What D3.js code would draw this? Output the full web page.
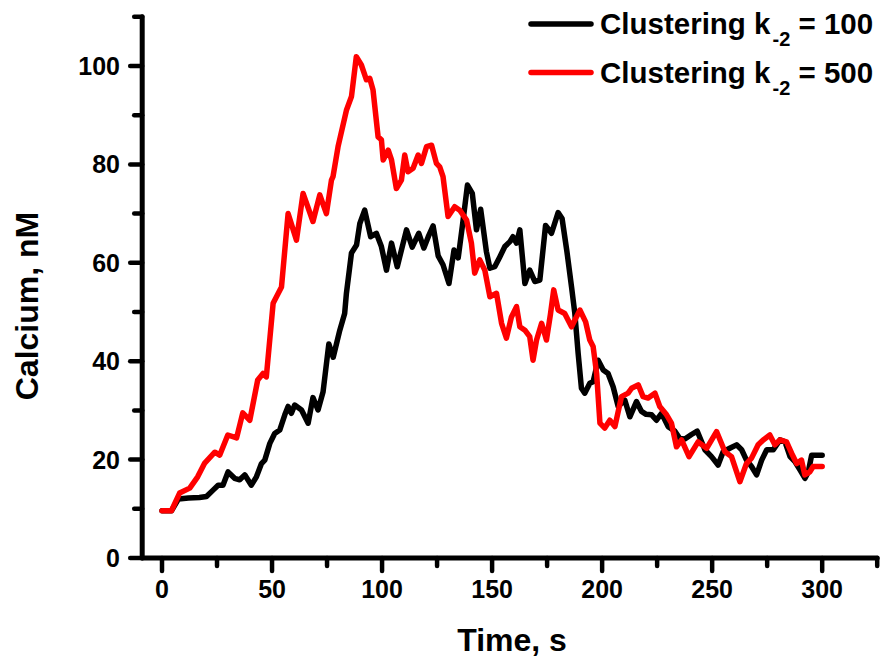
<!DOCTYPE html>
<html>
<head>
<meta charset="utf-8">
<script src="https://cdn.jsdelivr.net/npm/d3@7/dist/d3.min.js"></script>
<style>
  html, body { margin: 0; padding: 0; background: #fff; }
  svg { display: block; }
  text { font-family: "Liberation Sans", Arial, sans-serif; font-weight: bold; fill: #000; }
</style>
</head>
<body>
<svg id="chart" width="881" height="659"></svg>
<script>
// ---- Data ----
const seriesNames = ["100", "500"];
const tK100 = [0,4.3,7.5,12,17,20.2,23.2,25.5,27.7,30,33,35.3,37.6,40.6,42.9,45.2,46.7,49,51.2,53.5,55.8,57.3,58.8,60.3,63.4,66.4,68.6,70.9,73.2,75.8,77.8,80.8,83,83.8,86.1,88.4,89.9,92.1,94.8,97.4,99.7,102,104.3,106.9,111.1,113.7,116.7,119,121,123.2,125.5,127.7,130.4,132.7,134.6,136.5,138.8,141,142.9,144.8,147.4,149,151.2,153.5,155.8,158.1,159.5,161.1,162.6,164.9,167.1,169.4,171.7,174.3,177,180,181.8,184,186.1,187.6,189.1,190.6,192.1,194.4,195.9,198.2,200.5,202.7,205,207.3,210.3,212.6,215.6,217.9,220,222.5,224.7,227,230,233,235.3,237.6,240.6,243.2,246.7,249.7,252.7,255,258,261.1,263.4,265.6,267.9,270.2,272.5,274.8,277.8,280.8,283.1,285.4,287.6,289.9,292.2,293.7,295.2,300];
const vK100 = [9.6,9.6,12,12.2,12.3,12.5,13.8,14.8,14.8,17.5,16.2,15.9,16.9,14.8,16.5,19.2,19.9,23.3,25.3,26,29.1,30.8,29.4,31.1,30.1,27.4,32.6,30.1,33.8,43.5,40.8,46.3,49.7,53.8,62,63.6,68,70.7,65.3,66,63.3,58.5,64,59.2,66.7,63.2,66,63,65.3,67.5,61.4,59.6,55.8,62.6,61,67.5,75.8,74.1,66.7,70.9,62.3,58.9,59.2,61.2,63.3,64.3,65.3,64,66.7,55.8,58.5,56.2,56.5,67.6,66,70.2,69,62.3,55.1,49.7,41.6,34.5,33.5,35.5,35.8,40.2,38.2,37.5,34.8,30.8,32.1,28.7,31.8,29.8,29.2,29.1,28,29.4,26.7,25.8,24.3,24.2,25.1,25.8,22,20.6,18.9,21.6,22.3,23,22,19.9,18.6,16.9,19.9,22,22,24,23.6,20.6,19.6,17.9,16.2,17.5,20.9,20.9];
const tK500 = [0,4.3,8,12.6,16.2,19.4,24,26.2,29.9,33.9,36.7,39.9,43.5,45.9,47.4,50.5,54.3,57.3,61.1,64.1,68.6,71.7,74.7,77,77.7,80,83.8,86.1,88.3,90.6,92.9,94.4,95.9,98.2,99.7,100.5,102.8,104.3,106.5,108.8,110.3,111.8,114.1,116.4,117.9,120.2,122.5,124.7,126.2,127.7,130,133,135.3,138.4,140.6,142.1,144.4,146.7,149,152,154.3,156.5,158.8,161.1,162.6,164.9,167.1,168.6,170.2,172.5,174.7,176.5,178,180,183,186.1,189.9,192.5,194.4,195.9,197.5,199,201.2,203.5,205.8,208.8,211.8,213.4,216.4,218.6,220.9,224,226.2,229.3,231.5,233.8,236.1,239.5,243.6,247.5,252,255.8,258.8,262.6,265.6,267.9,270.9,273.2,276.2,278.5,280.8,283.8,286.1,288.4,290.6,292.1,294.4,295.9,300];
const vK500 = [9.6,9.6,13.2,14.2,16.5,19.3,21.5,20.9,25,24.4,29.5,28,36.2,37.5,36.8,51.8,55.1,70,64.6,74.1,68.4,73.8,70,76.8,77.5,83.6,91,93.8,101.9,100.2,97.2,97.5,95.1,85.6,85,80.9,82.9,80.9,75.1,76.8,81.9,78.5,79.2,81.9,80.2,83.6,83.9,80.2,79.5,77.5,69.4,71.4,70.7,68.7,64,57.9,60.6,58.5,53.1,53.8,47.7,44.7,49,51.1,47,46.3,45,40.2,44.3,47.7,44.3,49.5,54.5,50.4,49.7,47,50.4,48,44.3,43,37.5,27.4,26.4,28,26.7,32.8,33.5,34.5,35.2,32.8,32.5,33.5,30.8,29.1,27.4,22.6,24,20.6,23.6,22.3,25.7,21.6,20.6,15.5,19.2,20.3,23,24,25,23,24,23.6,21.3,19.2,19.9,16.9,17.5,18.6,18.6];
const xTicks = [0, 50, 100, 150, 200, 250, 300];
const xMinorTicks = [25, 75, 125, 175, 225, 275, 325];
const yTicks = [0, 20, 40, 60, 80, 100];
const yMinorTicks = [10, 30, 50, 70, 90, 110];
const xTitle = "Time, s";
const yTitle = "Calcium, nM";
const legendPrefix = "Clustering k";
const legendSub = "-2";

// ---- Layout ----
const svg = d3.select("#chart");
svg.append("rect").attr("width", 881).attr("height", 659).attr("fill", "#fff");

const x = d3.scaleLinear().domain([-9, 325]).range([142.2, 877.2]);
const y = d3.scaleLinear().domain([0, 110]).range([558, 16.8]);

const axisW = 5;

// Y axis
const gy = svg.append("g");
gy.append("line").attr("x1", x(-9)).attr("x2", x(-9)).attr("y1", y(0)).attr("y2", y(110))
  .attr("stroke", "#000").attr("stroke-width", axisW).attr("stroke-linecap", "round");
gy.selectAll(".ymaj").data(yTicks).join("line")
  .attr("x1", x(-9)).attr("x2", x(-9) - 12).attr("y1", d => y(d)).attr("y2", d => y(d))
  .attr("stroke", "#000").attr("stroke-width", 4.5).attr("stroke-linecap", "round");
gy.selectAll(".ymin").data(yMinorTicks).join("line")
  .attr("x1", x(-9)).attr("x2", x(-9) - 8).attr("y1", d => y(d)).attr("y2", d => y(d))
  .attr("stroke", "#000").attr("stroke-width", 4.5).attr("stroke-linecap", "round");
gy.selectAll(".ylab").data(yTicks).join("text")
  .attr("x", 120).attr("y", d => y(d) + 9)
  .attr("text-anchor", "end").attr("font-size", 25)
  .text(d => d);

// X axis
const gx = svg.append("g");
gx.append("line").attr("x1", x(-9)).attr("x2", x(325)).attr("y1", y(0)).attr("y2", y(0))
  .attr("stroke", "#000").attr("stroke-width", axisW).attr("stroke-linecap", "round");
gx.selectAll(".xmaj").data(xTicks).join("line")
  .attr("x1", d => x(d)).attr("x2", d => x(d)).attr("y1", y(0)).attr("y2", y(0) + 13)
  .attr("stroke", "#000").attr("stroke-width", 4.5).attr("stroke-linecap", "round");
gx.selectAll(".xmin").data(xMinorTicks).join("line")
  .attr("x1", d => x(d)).attr("x2", d => x(d)).attr("y1", y(0)).attr("y2", y(0) + 8)
  .attr("stroke", "#000").attr("stroke-width", 4.5).attr("stroke-linecap", "round");
gx.selectAll(".xlab").data(xTicks).join("text")
  .attr("x", d => x(d)).attr("y", 598)
  .attr("text-anchor", "middle").attr("font-size", 25)
  .text(d => d);

// Titles
svg.append("text").attr("x", 512).attr("y", 651).attr("text-anchor", "middle")
  .attr("font-size", 32).text(xTitle);
svg.append("text").attr("transform", "translate(38,306) rotate(-90)")
  .attr("text-anchor", "middle").attr("font-size", 32).text(yTitle);

// Lines
const line = d3.line().x(d => x(d[0])).y(d => y(d[1]));
const dK100 = tK100.map((t, i) => [t, vK100[i]]);
const dK500 = tK500.map((t, i) => [t, vK500[i]]);
const colors = ["#000000", "#ff0000"];
[dK100, dK500].forEach((d, i) => {
  svg.append("path").datum(d).attr("d", line)
    .attr("fill", "none").attr("stroke", colors[i]).attr("stroke-width", 5.5)
    .attr("stroke-linejoin", "round").attr("stroke-linecap", "round");
});

// Legend
const legY = [24, 72.5];
seriesNames.forEach((name, i) => {
  svg.append("line").attr("x1", 531).attr("x2", 591).attr("y1", legY[i]).attr("y2", legY[i])
    .attr("stroke", colors[i]).attr("stroke-width", 5.5).attr("stroke-linecap", "round");
  const t = svg.append("text").attr("x", 600).attr("y", legY[i] + 10).attr("font-size", 29.5);
  t.append("tspan").text(legendPrefix);
  t.append("tspan").attr("font-size", 20).attr("dy", 12).attr("dx", 2).text(legendSub);
  t.append("tspan").attr("dy", -12).text(" = " + name);
});
</script>
</body>
</html>
